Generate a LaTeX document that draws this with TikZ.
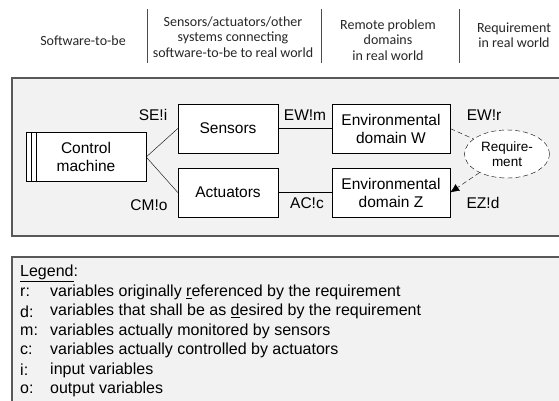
\documentclass[tikz,border=0pt]{standalone}
\usepackage{fontspec}
\setmainfont{Liberation Sans}
\newfontfamily\headfont{Carlito}
\usetikzlibrary{shapes.geometric,arrows.meta}

\begin{document}
\begin{tikzpicture}[x=1pt, y=-1pt, every node/.style={font=\fontsize{15.5}{18}\selectfont},
  domainbox/.style={draw, fill=white, minimum height=49pt, align=center, inner sep=2pt},
  hdr/.style={font=\headfont\fontsize{14}{15.5}\selectfont, align=center, text=black!85},
  sepline/.style={draw=black!70, line width=0.8pt},
  panel/.style={draw=black!65, line width=1.4pt, fill=black!5},
  flag/.style={inner sep=0pt},
  legtext/.style={anchor=west, inner sep=0pt, font=\fontsize{16}{19}\selectfont},
  reqlink/.style={dashed, dash pattern=on 5pt off 3pt}]
\useasboundingbox (0,0) rectangle (559,400);
% header columns
\node[hdr] (hSoft) at (83,41) {Software-to-be};
\node[hdr] (hSens) at (233,37) {Sensors/actuators/other\\systems connecting\\software-to-be to real world};
\node[hdr] (hRem) at (388,40) {Remote problem\\domains\\in real world};
\node[hdr] (hReq) at (514,35) {Requirement\\in real world};
\foreach \x in {147,321,459} {
  \draw[sepline] (\x,9) -- (\x,63);
}
% main panel
\draw[panel] (12,78) rectangle (580,236);
\node[domainbox, minimum width=120pt] (machine) at (86,157) {Control\\machine};
\draw ([xshift=5pt]machine.north west) -- ([xshift=5pt]machine.south west);
\draw ([xshift=10pt]machine.north west) -- ([xshift=10pt]machine.south west);
\node[domainbox, minimum width=100pt] (sensors) at (228,128.5) {Sensors};
\node[domainbox, minimum width=100pt] (actuators) at (228,192.5) {Actuators};
\node[domainbox, minimum width=118pt] (envW) at (391,128.5) {Environmental\\domain W};
\node[domainbox, minimum width=118pt] (envZ) at (391,192.5) {Environmental\\domain Z};
\node[draw, ellipse, reqlink, fill=white, minimum width=85pt, minimum height=48pt, inner sep=0pt, align=center,
  font=\fontsize{13.5}{15}\selectfont] (req) at (507,154) {Require-\\ment};
\draw (machine.east) -- (sensors.west);
\draw (machine.east) -- (actuators.west);
\draw (sensors.east) -- (envW.west);
\draw (actuators.east) -- (envZ.west);
\draw[reqlink] (envW.east) -- (req);
\draw[reqlink, -{Latex[length=9pt,width=8pt]}] (req) -- (envZ.east);
% shared phenomena
\node[flag] (seI) at (153,115) {SE!i};
\node[flag] (cmO) at (149,205) {CM!o};
\node[flag] (ewM) at (305,115) {EW!m};
\node[flag] (acC) at (307,203) {AC!c};
\node[flag] (ewR) at (484,115) {EW!r};
\node[flag] (ezD) at (483,203) {EZ!d};
% legend
\draw[panel] (12,257) rectangle (580,420);
\node[legtext] (legTitle) at (20,273) {\underline{Legend}:};
\foreach \k/\txt [count=\i] in {r/variables originally \underline{r}eferenced by the requirement,
    d/variables that shall be as \underline{d}esired by the requirement,
    m/variables actually monitored by sensors,
    c/variables actually controlled by actuators,
    i/input variables,
    o/output variables} {
  \node[legtext] (key\k) at (20,273+19.4*\i) {\k:};
  \node[legtext] (item\k) at (50,273+19.4*\i) {\txt};
}
\end{tikzpicture}
\end{document}
